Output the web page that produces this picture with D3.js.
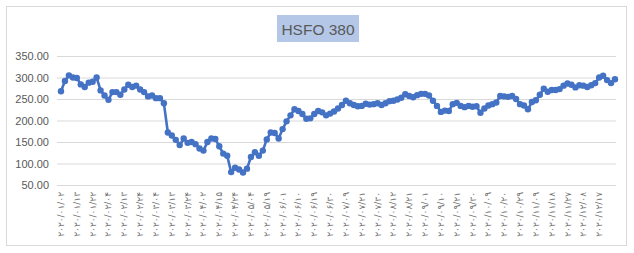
<!DOCTYPE html>
<html lang="en">
<head>
<meta charset="UTF-8">
<script src="https://d3js.org/d3.v7.min.js"></script>
<style>
    body { margin: 0; background: #fff; }
    svg { display: block; }
</style>
</head>
<body>
<script>

    // HSFO 380 price, one value per point
    var prices = [
        268, 292, 305, 300, 299, 284, 278, 288, 290, 300,
        270, 258, 248, 266, 266, 260, 272, 283, 278, 281,
        272, 266, 256, 258, 252, 252, 240, 172, 165, 155,
        143, 158, 148, 150, 145, 135, 130, 150, 158, 157,
        140, 123, 118, 80, 90, 86, 79, 88, 115, 126,
        118, 130, 156, 172, 171, 158, 180, 198, 212, 226,
        222, 215, 204, 205, 215, 222, 219, 212, 216, 221,
        228, 236, 246, 240, 236, 233, 234, 239, 237, 238,
        240, 236, 240, 245, 246, 249, 253, 261, 257, 254,
        259, 262, 262, 258, 246, 234, 220, 223, 222, 238,
        241, 234, 231, 234, 232, 233, 218, 228, 235, 238,
        242, 257, 256, 255, 257, 250, 238, 235, 226, 243,
        247, 260, 274, 267, 271, 271, 273, 281, 286, 283,
        277, 282, 281, 278, 282, 287, 300, 304, 294, 287,
        296
    ];

    // category labels, one every 4 points
    var dateLabels = [
        "۲۰۲۰/۰۱/۰۲", "۲۰۲۰/۰۱/۱۳", "۲۰۲۰/۰۱/۲۲", "۲۰۲۰/۰۲/۰۴", "۲۰۲۰/۰۲/۱۳",
        "۲۰۲۰/۰۲/۲۴", "۲۰۲۰/۰۳/۰۴", "۲۰۲۰/۰۳/۱۳", "۲۰۲۰/۰۳/۲۴", "۲۰۲۰/۰۴/۰۲",
        "۲۰۲۰/۰۴/۱۵", "۲۰۲۰/۰۴/۲۴", "۲۰۲۰/۰۵/۰۴", "۲۰۲۰/۰۵/۱۹", "۲۰۲۰/۰۶/۰۱",
        "۲۰۲۰/۰۶/۱۰", "۲۰۲۰/۰۶/۱۹", "۲۰۲۰/۰۶/۳۰", "۲۰۲۰/۰۷/۰۹", "۲۰۲۰/۰۷/۲۱",
        "۲۰۲۰/۰۷/۳۰", "۲۰۲۰/۰۸/۱۲", "۲۰۲۰/۰۸/۲۱", "۲۰۲۰/۰۹/۰۱", "۲۰۲۰/۰۹/۱۰",
        "۲۰۲۰/۰۹/۲۱", "۲۰۲۰/۰۹/۳۰", "۲۰۲۰/۱۰/۰۹", "۲۰۲۰/۱۰/۲۰", "۲۰۲۰/۱۰/۲۹",
        "۲۰۲۰/۱۱/۰۹", "۲۰۲۰/۱۱/۱۸", "۲۰۲۰/۱۱/۲۷", "۲۰۲۰/۱۲/۰۸", "۲۰۲۰/۱۲/۱۷"
    ];
    var labelStep = 4;

    var yTicks = [50, 100, 150, 200, 250, 300, 350];

    var width = 634;
    var height = 253;
    var gridLeft = 57, gridRight = 616;

    var svg = d3.select("body").append("svg")
        .attr("width", width)
        .attr("height", height);

    // chart border
    svg.append("rect")
        .attr("x", 6.5).attr("y", 6.5)
        .attr("width", 620).attr("height", 239)
        .attr("fill", "#fff")
        .attr("stroke", "#d9d9d9");

    var x = d3.scaleLinear()
        .domain([0, prices.length - 1])
        .range([61, 615]);

    var y = d3.scaleLinear()
        .domain([50, 350])
        .range([185, 56]);

    // y axis + gridlines
    var yAxis = d3.axisLeft(y)
        .tickValues(yTicks)
        .tickFormat(d3.format(".2f"))
        .tickSize(-(gridRight - gridLeft))
        .tickPadding(8);

    var yg = svg.append("g")
        .attr("transform", "translate(" + gridLeft + ",0)")
        .call(yAxis);
    yg.select(".domain").remove();
    yg.selectAll(".tick line").attr("stroke", "#d9d9d9");
    yg.selectAll(".tick text")
        .attr("fill", "#595959")
        .style("font-family", "Liberation Sans, Arial, sans-serif")
        .style("font-size", "11px");

    // x labels, rotated
    svg.append("g").selectAll(".dateText")
        .data(dateLabels)
        .enter()
        .append("text")
        .attr("class", "dateText")
        .attr("transform", function (d, i) {
            return "translate(" + (x(i * labelStep) + 3) + ",192) rotate(-90)";
        })
        .attr("text-anchor", "end")
        .attr("fill", "#6f6f6f")
        .style("font-family", "DejaVu Sans, sans-serif")
        .style("font-size", "9px")
        .text(function (d) { return d; });

    // line
    var line = d3.line()
        .x(function (d, i) { return x(i); })
        .y(function (d) { return y(d); });

    svg.append("path")
        .datum(prices)
        .attr("fill", "none")
        .attr("stroke", "#4472c4")
        .attr("stroke-width", 2.6)
        .attr("stroke-linejoin", "round")
        .attr("d", line);

    svg.append("g").selectAll("circle")
        .data(prices)
        .enter()
        .append("circle")
        .attr("cx", function (d, i) { return x(i); })
        .attr("cy", function (d) { return y(d); })
        .attr("r", 3.2)
        .attr("fill", "#4472c4");

    // title
    svg.append("rect")
        .attr("x", 277).attr("y", 15)
        .attr("width", 82).attr("height", 27)
        .attr("fill", "#b4c7e7");

    svg.append("text")
        .attr("x", 318)
        .attr("y", 34.5)
        .attr("text-anchor", "middle")
        .attr("fill", "#595959")
        .style("font-family", "Liberation Sans, Arial, sans-serif")
        .style("font-size", "15.5px")
        .text("HSFO 380");

</script>
</body>
</html>
